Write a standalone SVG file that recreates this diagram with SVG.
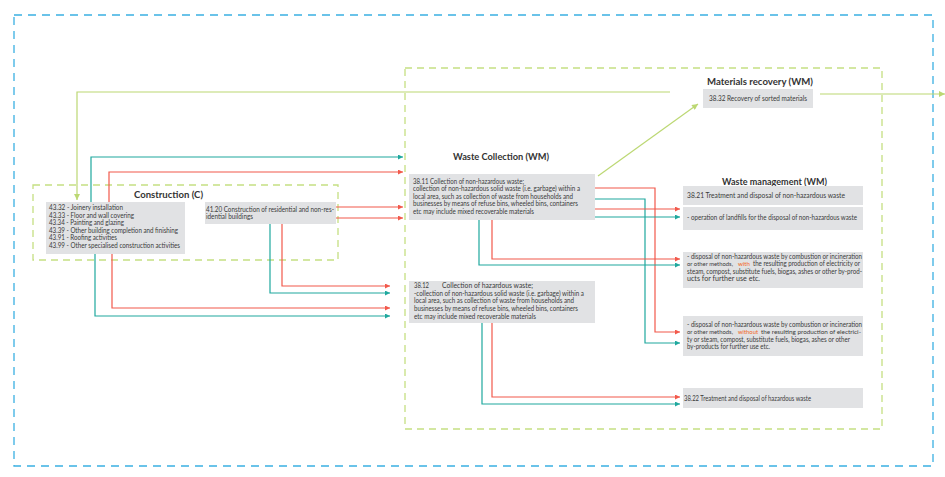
<svg xmlns="http://www.w3.org/2000/svg" width="945" height="477" viewBox="0 0 945 477">
<style>
.box{fill:#e1e2e4}
.t{font-family:Lato,"Liberation Sans",sans-serif;font-size:7px;fill:#3a3a3a}
.s{font-size:6px}
.h{font-family:Lato,"Liberation Sans",sans-serif;font-weight:bold;font-size:10px;fill:#333}
.o{font-family:Lato,"Liberation Sans",sans-serif;font-size:6px;fill:#f26522}
.red{stroke:#f2594b;stroke-width:1.2;fill:none}
.teal{stroke:#1fa89e;stroke-width:1.2;fill:none}
.grn{stroke:#bcd873;stroke-width:1.2;fill:none}
.gdash{stroke:#c5df82;stroke-width:1.3;fill:none;stroke-dasharray:7 5}
.bdash{stroke:#3ab0e2;stroke-width:1.3;fill:none;stroke-dasharray:8 6}
</style>
<defs>
<marker id="ar" viewBox="0 0 6 6" refX="6" refY="3" markerWidth="6" markerHeight="5" markerUnits="userSpaceOnUse" orient="auto"><path d="M0,0L6,3L0,6z" fill="#f2594b"/></marker>
<marker id="at" viewBox="0 0 6 6" refX="6" refY="3" markerWidth="6" markerHeight="5" markerUnits="userSpaceOnUse" orient="auto"><path d="M0,0L6,3L0,6z" fill="#1fa89e"/></marker>
<marker id="ag" viewBox="0 0 6 6" refX="6" refY="3" markerWidth="7" markerHeight="6" markerUnits="userSpaceOnUse" orient="auto"><path d="M0,0L6,3L0,6z" fill="#bcd873"/></marker>
</defs>
<rect x="0" y="0" width="945" height="477" fill="#fff"/>
<g id="frames">
<rect class="bdash" x="14" y="15" width="919" height="451"/>
<rect class="gdash" x="405" y="68" width="477" height="361"/>
<rect class="gdash" x="33" y="185" width="305" height="75"/>
</g>
<g id="connectors">
<path class="grn" d="M670,92H77V200" marker-end="url(#ag)"/>
<path class="grn" d="M820,94H945" marker-end="url(#ag)"/>
<path class="grn" d="M598,176L698,104" marker-end="url(#ag)"/>
<path class="teal" d="M91,202V157H403" marker-end="url(#at)"/>
<path class="red" d="M109,202V172H403" marker-end="url(#ar)"/>
<path class="red" d="M336,207H403" marker-end="url(#ar)"/>
<path class="red" d="M336,218H403" marker-end="url(#ar)"/>
<path class="teal" d="M95,254V316H390" marker-end="url(#at)"/>
<path class="red" d="M112,254V308H390" marker-end="url(#ar)"/>
<path class="teal" d="M270,224V293H390" marker-end="url(#at)"/>
<path class="red" d="M282,224V286H390" marker-end="url(#ar)"/>
<path class="red" d="M595,188H655V332H680" marker-end="url(#ar)"/>
<path class="teal" d="M595,199H645V343H680" marker-end="url(#at)"/>
<path class="red" d="M595,209H680" marker-end="url(#ar)"/>
<path class="teal" d="M595,217H680" marker-end="url(#at)"/>
<path class="red" d="M492,220V259H680" marker-end="url(#ar)"/>
<path class="teal" d="M479,220V265H680" marker-end="url(#at)"/>
<path class="red" d="M492,323V397H680" marker-end="url(#ar)"/>
<path class="teal" d="M482,323V404H680" marker-end="url(#at)"/>
</g>
<g id="construction">
<text class="h" x="134" y="198" textLength="69" lengthAdjust="spacingAndGlyphs">Construction (C)</text>
</g>
<g id="c43">
<rect class="box" x="46" y="202" width="139" height="52"/>
<text class="t" x="49" y="210" textLength="74" lengthAdjust="spacingAndGlyphs">43.32 - Joinery installation</text>
<text class="t" x="49" y="217.5" textLength="85" lengthAdjust="spacingAndGlyphs">43.33 - Floor and wall covering</text>
<text class="t" x="49" y="225" textLength="75" lengthAdjust="spacingAndGlyphs">43.34 - Painting and glazing</text>
<text class="t" x="49" y="232.5" textLength="129" lengthAdjust="spacingAndGlyphs">43.39 - Other building completion and finishing</text>
<text class="t" x="49" y="240" textLength="68" lengthAdjust="spacingAndGlyphs">43.91 - Roofing activities</text>
<text class="t" x="49" y="247.5" textLength="131" lengthAdjust="spacingAndGlyphs">43.99 - Other specialised construction activities</text>
</g>
<g id="c4120">
<rect class="box" x="205" y="202" width="131" height="22"/>
<text class="t" x="206" y="211.5" textLength="128" lengthAdjust="spacingAndGlyphs">41.20 Construction of residential and non-res-</text>
<text class="t" x="206" y="219" textLength="47" lengthAdjust="spacingAndGlyphs">idential buildings</text>
</g>
<g id="wastecollection">
<text class="h" x="453" y="160" textLength="96" lengthAdjust="spacingAndGlyphs">Waste Collection (WM)</text>
</g>
<g id="w3811">
<rect class="box" x="409" y="174" width="186" height="46"/>
<text class="t" x="413" y="183.5" textLength="111" lengthAdjust="spacingAndGlyphs">38.11 Collection of non-hazardous waste;</text>
<text class="t" x="413" y="191" textLength="167" lengthAdjust="spacingAndGlyphs">collection of non-hazardous solid waste (i.e. garbage) within a</text>
<text class="t" x="413" y="198.5" textLength="160" lengthAdjust="spacingAndGlyphs">local area, such as collection of waste from households and</text>
<text class="t" x="413" y="206" textLength="165" lengthAdjust="spacingAndGlyphs">businesses by means of refuse bins, wheeled bins, containers</text>
<text class="t" x="413" y="213.5" textLength="121" lengthAdjust="spacingAndGlyphs">etc may include mixed recoverable materials</text>
</g>
<g id="w3812">
<rect class="box" x="409" y="281" width="186" height="42"/>
<text class="t" x="414" y="288" textLength="15" lengthAdjust="spacingAndGlyphs">38.12</text>
<text class="t" x="442" y="288" textLength="91" lengthAdjust="spacingAndGlyphs">Collection of hazardous waste;</text>
<text class="t" x="414" y="295.7" textLength="170" lengthAdjust="spacingAndGlyphs">-collection of non-hazardous solid waste (i.e. garbage) within a</text>
<text class="t" x="414" y="303.4" textLength="160" lengthAdjust="spacingAndGlyphs">local area, such as collection of waste from households and</text>
<text class="t" x="414" y="311.1" textLength="164" lengthAdjust="spacingAndGlyphs">businesses by means of refuse bins, wheeled bins, containers</text>
<text class="t" x="414" y="318.8" textLength="122" lengthAdjust="spacingAndGlyphs">etc may include mixed recoverable materials</text>
</g>
<g id="materials">
<text class="h" x="707" y="84.5" textLength="106" lengthAdjust="spacingAndGlyphs">Materials recovery (WM)</text>
<rect class="box" x="703" y="89" width="110" height="19"/>
<text class="t" x="709" y="100.5" textLength="98" lengthAdjust="spacingAndGlyphs">38.32 Recovery of sorted materials</text>
</g>
<g id="wastemanagement">
<text class="h" x="722" y="185" textLength="105" lengthAdjust="spacingAndGlyphs">Waste management (WM)</text>
</g>
<g id="m3821">
<rect class="box" x="683" y="186" width="180" height="19"/>
<text class="t" x="687" y="197.5" textLength="158" lengthAdjust="spacingAndGlyphs">38.21 Treatment and disposal of non-hazardous waste</text>
</g>
<g id="mlandfill">
<rect class="box" x="683" y="207" width="180" height="23"/>
<text class="t" x="687" y="219.5" textLength="170" lengthAdjust="spacingAndGlyphs">- operation of landfills for the disposal of non-hazardous waste</text>
</g>
<g id="mwith">
<rect class="box" x="683" y="252" width="180" height="36"/>
<text class="t" x="687" y="258.5" textLength="175" lengthAdjust="spacingAndGlyphs">- disposal of non-hazardous waste by combustion or incineration</text>
<text class="t s" x="687" y="266" textLength="46" lengthAdjust="spacingAndGlyphs">or other methods,</text>
<text class="o" x="738" y="266" textLength="12" lengthAdjust="spacingAndGlyphs">with</text>
<text class="t" x="753" y="266" textLength="107" lengthAdjust="spacingAndGlyphs">the resulting production of electricity or</text>
<text class="t" x="687" y="273.5" textLength="175" lengthAdjust="spacingAndGlyphs">steam, compost, substitute fuels, biogas, ashes or other by-prod-</text>
<text class="t" x="687" y="281" textLength="73" lengthAdjust="spacingAndGlyphs">ucts for further use etc.</text>
</g>
<g id="mwithout">
<rect class="box" x="683" y="316" width="180" height="40"/>
<text class="t" x="687" y="326.5" textLength="175" lengthAdjust="spacingAndGlyphs">- disposal of non-hazardous waste by combustion or incineration</text>
<text class="t s" x="687" y="334" textLength="46" lengthAdjust="spacingAndGlyphs">or other methods,</text>
<text class="o" x="738" y="334" textLength="20" lengthAdjust="spacingAndGlyphs">without</text>
<text class="t s" x="761" y="334" textLength="100" lengthAdjust="spacingAndGlyphs">the resulting production of electrici-</text>
<text class="t" x="687" y="341.5" textLength="163" lengthAdjust="spacingAndGlyphs">ty or steam, compost, substitute fuels, biogas, ashes or other</text>
<text class="t" x="687" y="349" textLength="83" lengthAdjust="spacingAndGlyphs">by-products for further use etc.</text>
</g>
<g id="m3822">
<rect class="box" x="683" y="388" width="180" height="20"/>
<text class="t" x="684" y="400.5" textLength="127" lengthAdjust="spacingAndGlyphs">38.22 Treatment and disposal of hazardous waste</text>
</g>
</svg>
